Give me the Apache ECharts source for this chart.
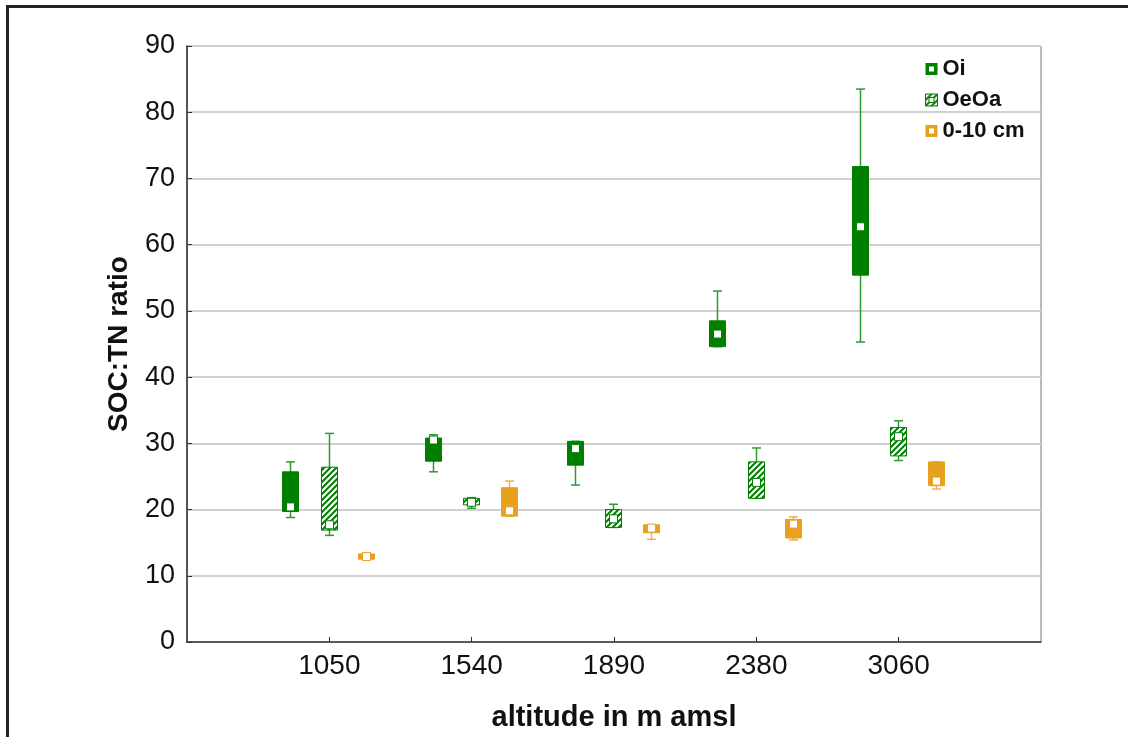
<!DOCTYPE html>
<html>
<head>
<meta charset="utf-8">
<script src="https://cdn.jsdelivr.net/npm/echarts@6/dist/echarts.min.js"></script>
<style>
html,body{margin:0;padding:0;background:#fff;}
#chart{width:1128px;height:737px;}
</style>
</head>
<body>
<div id="chart"></div>
<script>
// ---- data ----
const categories = ['1050', '1540', '1890', '2380', '3060'];
const seriesNames = ['Oi', 'OeOa', '0-10 cm'];
// each entry: [min, q1, marker, q3, max]
const oiValues = [
  [18.8, 19.7, 20.4, 25.7, 27.2],
  [25.7, 27.3, 30.5, 30.8, 31.3],
  [23.7, 26.7, 29.2, 30.3, 30.3],
  [44.6, 44.6, 46.5, 48.5, 53.0],
  [45.3, 55.4, 62.7, 71.8, 83.5]
];
const oeoaValues = [
  [16.1, 16.9, 17.7, 26.4, 31.5],
  [20.2, 20.7, 21.1, 21.7, 21.8],
  [17.3, 17.3, 18.6, 20.0, 20.8],
  [21.7, 21.7, 24.1, 27.2, 29.3],
  [27.4, 28.1, 31.0, 32.4, 33.4]
];
const topsoilValues = [
  [12.4, 12.5, 12.9, 13.3, 13.4],
  [19.0, 19.0, 19.8, 23.3, 24.3],
  [15.5, 16.5, 17.2, 17.7, 17.7],
  [15.4, 15.7, 17.8, 18.5, 18.9],
  [23.1, 23.6, 24.3, 27.2, 27.2]
];
const yTicks = [0, 10, 20, 30, 40, 50, 60, 70, 80, 90];

// ---- styles ----
const GREEN = '#007f00';
const GREEN_W = '#2f9a2f';
const ORANGE = '#e8a11f';
const ORANGE_W = '#eeb04a';
const FONT = "'Liberation Sans', Arial, sans-serif";

function hatchPattern() {
  const c = document.createElement('canvas');
  c.width = 6; c.height = 6;
  const g = c.getContext('2d');
  g.fillStyle = '#ffffff';
  g.fillRect(0, 0, 6, 6);
  g.strokeStyle = GREEN;
  g.lineWidth = 2;
  g.beginPath();
  g.moveTo(-1, 7); g.lineTo(7, -1);
  g.moveTo(-4, 4); g.lineTo(4, -4);
  g.moveTo(2, 10); g.lineTo(10, 2);
  g.stroke();
  return { image: c, repeat: 'repeat' };
}
const HATCH = hatchPattern();

function toData(values) {
  return values.map((v, i) => [i + 1].concat(v));
}

function boxRenderer(offset, color, whiskerColor, fill) {
  return function (params, api) {
    const xi = api.value(0) + offset;
    const cx = Math.round(api.coord([xi, 0])[0]) + 0.5;
    const y = k => api.coord([xi, api.value(k)])[1];
    const yMin = y(1), yQ1 = y(2), yMid = y(3), yQ3 = y(4), yMax = y(5);
    const bw = 16, cw = 9, ms = 8;
    const ws = { stroke: whiskerColor, lineWidth: 1.5 };
    return {
      type: 'group',
      children: [
        { type: 'line', shape: { x1: cx, y1: yMax, x2: cx, y2: yMin }, style: ws },
        { type: 'line', shape: { x1: cx - cw / 2, y1: yMax, x2: cx + cw / 2, y2: yMax }, style: ws },
        { type: 'line', shape: { x1: cx - cw / 2, y1: yMin, x2: cx + cw / 2, y2: yMin }, style: ws },
        { type: 'rect', shape: { x: cx - bw / 2, y: yQ3, width: bw, height: Math.max(yQ1 - yQ3, 1) },
          style: { fill: fill, stroke: color, lineWidth: 1 } },
        { type: 'rect', shape: { x: cx - ms / 2, y: yMid - ms / 2, width: ms, height: ms },
          style: { fill: '#ffffff', stroke: color, lineWidth: 1 } }
      ]
    };
  };
}

const ICON = 'path://M0,0L12,0L12,12L0,12Z M3.5,3.5L3.5,8.5L8.5,8.5L8.5,3.5Z';

const chart = echarts.init(document.getElementById('chart'), null, { renderer: 'canvas' });
chart.setOption({
  animation: false,
  backgroundColor: '#ffffff',
  textStyle: { fontFamily: FONT },
  graphic: [
    { type: 'rect', left: 5, top: 4, shape: { width: 1200, height: 800 },
      style: { fill: 'none', stroke: '#222', lineWidth: 3 }, silent: true, z: -1 }
  ],
  grid: {
    left: 187, right: 87, top: 46, bottom: 95,
    show: true, borderColor: '#777', borderWidth: 1, backgroundColor: 'transparent'
  },
  legend: {
    orient: 'vertical',
    left: 920, top: 52,
    itemWidth: 12, itemHeight: 12, itemGap: 7,
    textStyle: { fontFamily: FONT, fontSize: 22, fontWeight: 'bold', color: '#111', lineHeight: 24 },
    data: [
      { name: seriesNames[0], icon: ICON, itemStyle: { color: GREEN, borderWidth: 0 } },
      { name: seriesNames[1], icon: ICON, itemStyle: { color: HATCH, borderColor: GREEN, borderWidth: 1 } },
      { name: seriesNames[2], icon: ICON, itemStyle: { color: ORANGE, borderWidth: 0 } }
    ],
    selectedMode: false
  },
  xAxis: {
    type: 'value', min: 0, max: 6, interval: 1,
    name: 'altitude in m amsl', nameLocation: 'middle', nameGap: 61,
    nameTextStyle: { fontFamily: FONT, fontSize: 29, fontWeight: 'bold', color: '#111' },
    axisLine: { show: true, lineStyle: { color: '#333', width: 1.5 } },
    axisTick: { show: true, inside: true, length: 5, customValues: [1, 2, 3, 4, 5], lineStyle: { color: '#333' } },
    axisLabel: {
      customValues: [1, 2, 3, 4, 5],
      formatter: v => categories[v - 1] || '',
      fontFamily: FONT, fontSize: 28, color: '#111', margin: 10
    },
    splitLine: { show: false }
  },
  yAxis: {
    type: 'value', min: yTicks[0], max: yTicks[yTicks.length - 1], interval: 10,
    name: 'SOC:TN ratio', nameLocation: 'middle', nameGap: 54,
    nameTextStyle: { fontFamily: FONT, fontSize: 28, fontWeight: 'bold', color: '#111' },
    axisLine: { show: true, lineStyle: { color: '#333', width: 1.5 } },
    axisTick: { show: true, inside: true, length: 5, lineStyle: { color: '#333' } },
    axisLabel: { fontFamily: FONT, fontSize: 27, color: '#111', margin: 12 },
    splitLine: { show: true, lineStyle: { color: '#d0d0d0', width: 2 } }
  },
  series: [
    {
      name: seriesNames[0], type: 'custom', itemStyle: { color: GREEN },
      renderItem: boxRenderer(-0.275, GREEN, GREEN_W, GREEN),
      encode: { x: 0, y: [1, 2, 3, 4, 5] },
      data: toData(oiValues), z: 3
    },
    {
      name: seriesNames[1], type: 'custom', itemStyle: { color: GREEN },
      renderItem: boxRenderer(-0.005, GREEN, GREEN_W, HATCH),
      encode: { x: 0, y: [1, 2, 3, 4, 5] },
      data: toData(oeoaValues), z: 3
    },
    {
      name: seriesNames[2], type: 'custom', itemStyle: { color: ORANGE },
      renderItem: boxRenderer(0.26, ORANGE, ORANGE_W, ORANGE),
      encode: { x: 0, y: [1, 2, 3, 4, 5] },
      data: toData(topsoilValues), z: 3
    }
  ]
});
</script>
</body>
</html>
